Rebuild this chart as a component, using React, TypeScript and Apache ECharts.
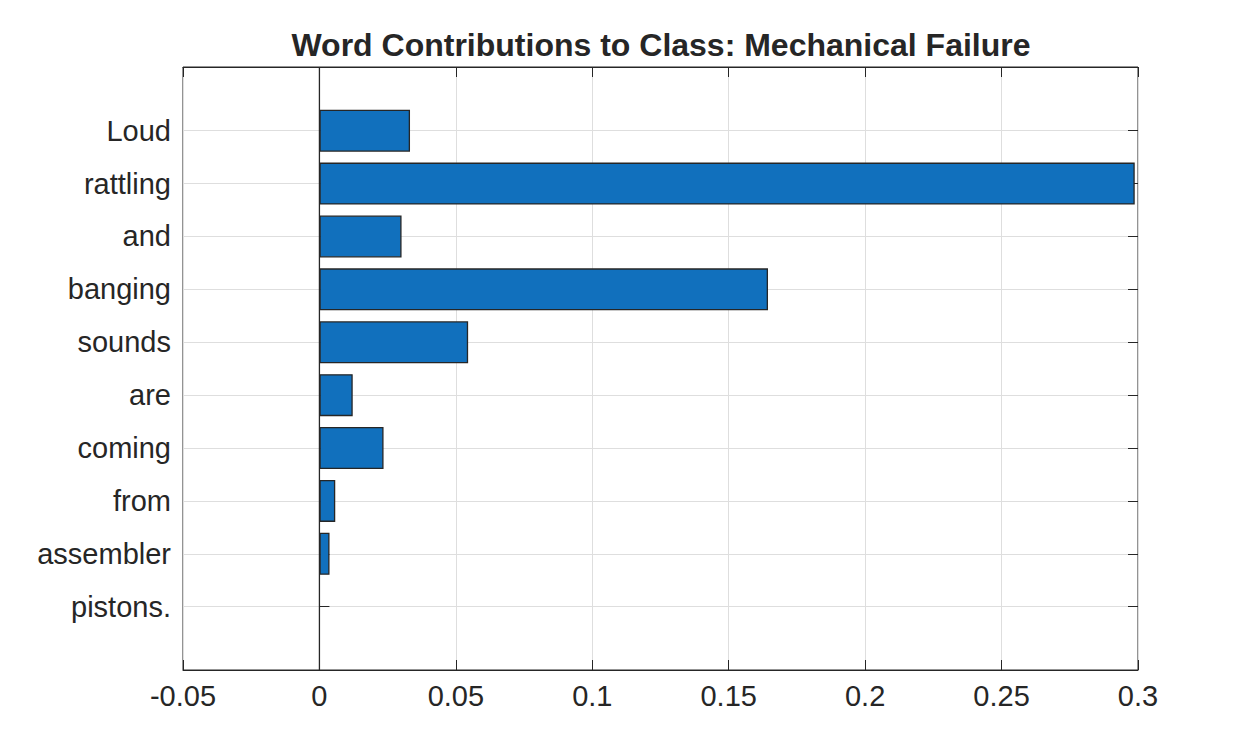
import React, { useEffect, useRef } from "react";
import * as echarts from "echarts";

const words = ["Loud", "rattling", "and", "banging", "sounds", "are", "coming", "from", "assembler", "pistons."];
const contributions = [0.0332, 0.2988, 0.0301, 0.1644, 0.0545, 0.0122, 0.0235, 0.0058, 0.0037, 0];
const xMin = -0.05;
const xMax = 0.3;
const xStep = 0.05;
const baseline = [[0, 0], [0, 1]];
const titleText = "Word Contributions to Class: Mechanical Failure";

const FONT = "'Liberation Sans', Arial, Helvetica, sans-serif";
const INK = "#262626";
const GRID = "#dedede";

export default function App() {
  const ref = useRef<HTMLDivElement>(null);
  useEffect(() => {
    if (!ref.current) return;
    const chart = echarts.init(ref.current, null, { renderer: "svg" });
    const frame = { left: 183, top: 67, width: 955, height: 603 };
    const inner = { left: 183, top: 130.7, width: 955, height: 476 };
    const barData = contributions.map((v) =>
      v === 0 ? { value: v, itemStyle: { borderWidth: 0, opacity: 0 } } : v
    );
    chart.setOption({
      animation: false,
      backgroundColor: "#ffffff",
      textStyle: { fontFamily: FONT },
      title: {
        text: titleText,
        left: 661,
        top: 28,
        textAlign: "center",
        padding: 0,
        textStyle: { fontFamily: FONT, fontSize: 32, fontWeight: "bold", color: INK, lineHeight: 34 },
      },
      grid: [
        { ...frame, show: true, borderColor: INK, borderWidth: 1, backgroundColor: "transparent" },
        { ...inner, show: false },
      ],
      xAxis: [
        {
          gridIndex: 0, type: "value", min: xMin, max: xMax, interval: xStep, position: "bottom",
          axisLine: { show: true, lineStyle: { color: INK, width: 1 } },
          axisTick: { show: true, inside: true, length: 10, lineStyle: { color: INK } },
          splitLine: { show: true, lineStyle: { color: GRID, width: 1 } },
          axisLabel: { fontSize: 29, color: INK, margin: 11, fontFamily: FONT },
        },
        {
          gridIndex: 0, type: "value", min: xMin, max: xMax, interval: xStep, position: "top",
          axisLine: { show: true, lineStyle: { color: INK, width: 1 } },
          axisTick: { show: true, inside: true, length: 10, lineStyle: { color: INK } },
          splitLine: { show: false },
          axisLabel: { show: false },
        },
        {
          gridIndex: 1, type: "value", min: xMin, max: xMax, interval: xStep, show: false,
          splitLine: { show: false },
        },
      ],
      yAxis: [
        {
          gridIndex: 0, type: "value", min: 0, max: 1, show: false, splitLine: { show: false },
        },
        {
          gridIndex: 1, type: "category", data: words, boundaryGap: false, inverse: true, position: "left",
          axisLine: { show: false },
          axisTick: { show: true, inside: true, length: 10, lineStyle: { color: INK } },
          splitLine: { show: true, lineStyle: { color: GRID, width: 1 } },
          axisLabel: { fontSize: 29, color: INK, margin: 12, fontFamily: FONT },
        },
        {
          gridIndex: 1, type: "category", data: words, boundaryGap: false, inverse: true, position: "right",
          axisLine: { show: false },
          axisTick: { show: true, inside: true, length: 10, lineStyle: { color: INK } },
          splitLine: { show: false },
          axisLabel: { show: false },
        },
      ],
      series: [
        {
          type: "bar",
          xAxisIndex: 2,
          yAxisIndex: 1,
          data: barData,
          barWidth: 42,
          clip: false,
          itemStyle: { color: "#1170BD", borderColor: INK, borderWidth: 1.3 },
          z: 3,
        },
        {
          type: "line",
          xAxisIndex: 0,
          yAxisIndex: 0,
          data: baseline,
          symbol: "none",
          lineStyle: { color: INK, width: 1.3 },
          z: 4,
        },
      ],
    });
    return () => chart.dispose();
  }, []);
  return (
    <div
      ref={ref}
      style={{ position: "fixed", left: 0, top: 0, width: 1238, height: 743, background: "#fff" }}
    />
  );
}
